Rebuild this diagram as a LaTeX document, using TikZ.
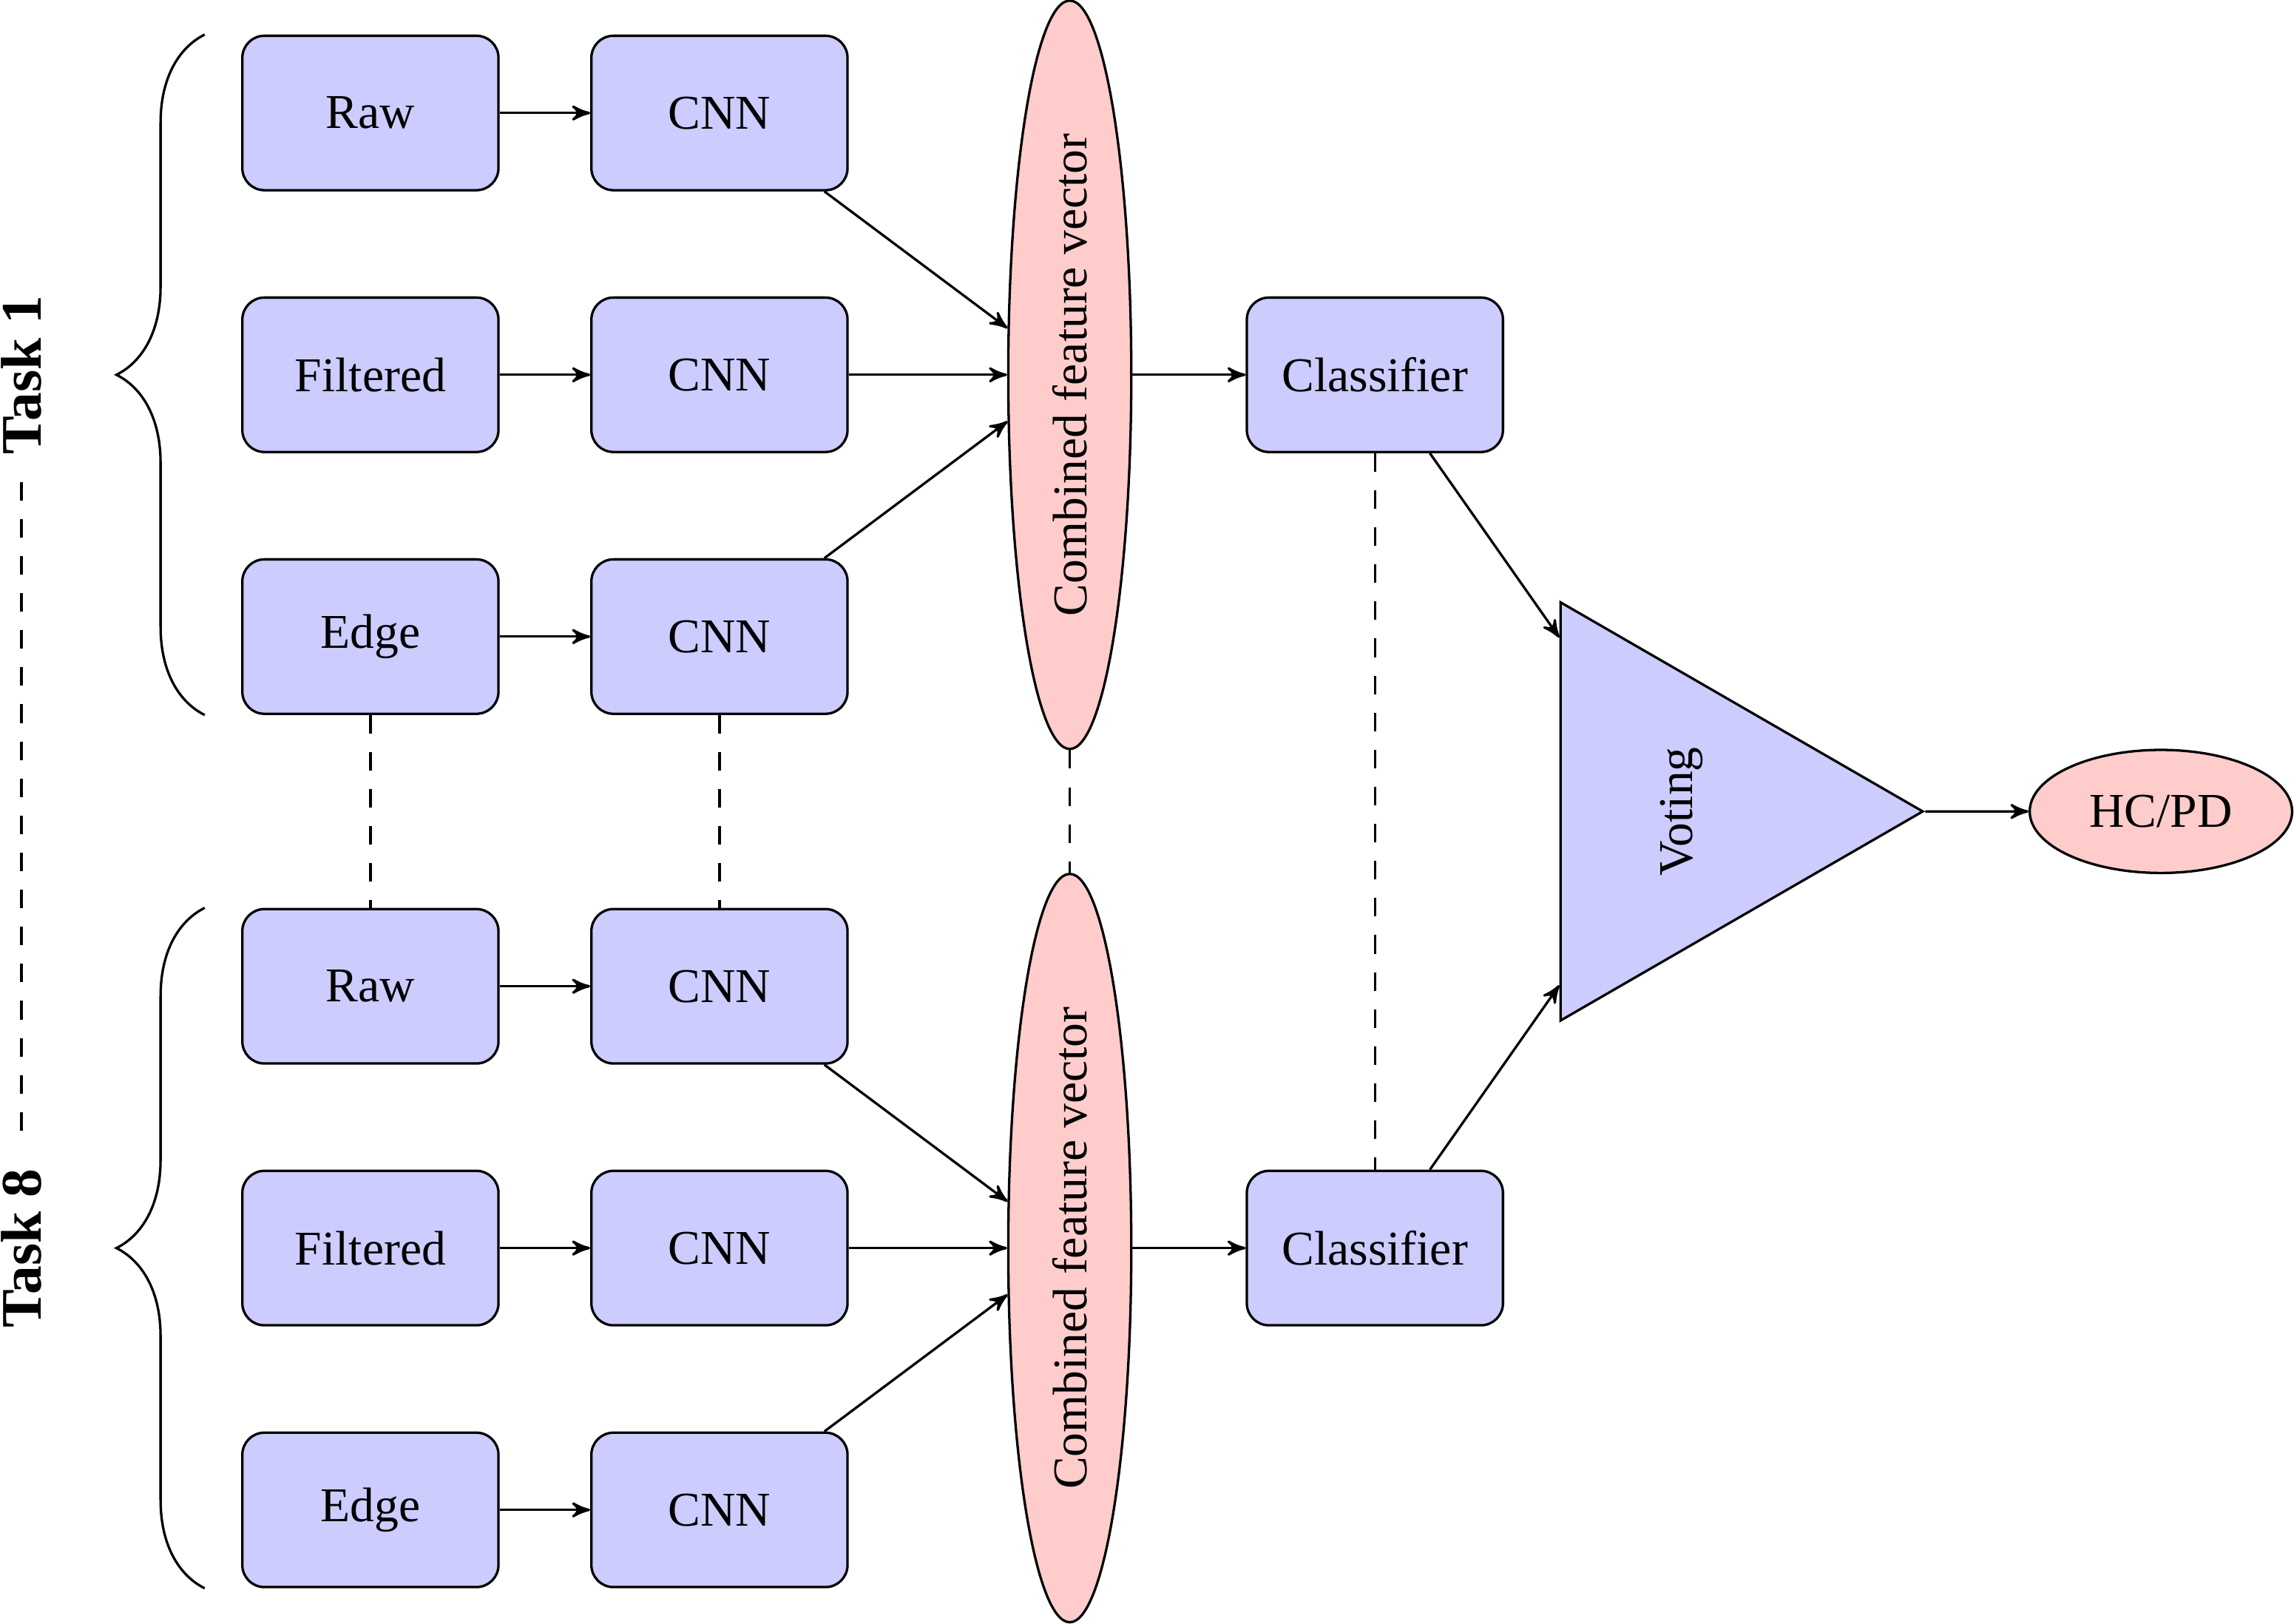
\documentclass[tikz,border=0pt]{standalone}
\usepackage{fontspec}
\setmainfont{Liberation Serif}
\usepackage{graphicx}
\usetikzlibrary{arrows,shapes.geometric,decorations.pathreplacing}

\tikzset{
  block/.style={draw, fill=blue!20, rounded corners=5pt,
    minimum width=2.04cm, minimum height=1.23cm},
  feat/.style={draw, fill=red!20, ellipse, inner sep=0pt,
    minimum width=5.96cm, minimum height=0.98cm},
  outcome/.style={draw, fill=red!20, ellipse, inner sep=0pt,
    minimum width=2.09cm, minimum height=0.98cm},
  vote/.style={draw, fill=blue!20, regular polygon, regular polygon sides=3,
    shape border rotate=-90, inner sep=0pt, minimum size=3.846cm},
  tasklabel/.style={inner sep=6pt, font=\fontsize{13}{15}\selectfont\bfseries},
  dashline/.style={dash pattern=on 4.2pt off 4.2pt},
  bracket/.style={decorate, decoration={brace, amplitude=20pt}}
}

\begin{document}
\begin{tikzpicture}[>=stealth', line width=0.55pt, font=\fontsize{11}{13.5}\selectfont]
  \useasboundingbox (0,0) rectangle (18.27,12.93);

  % one block of rows per task
  \foreach \t/\y in {1/9.945, 8/2.99}
  {
    \node[block] (raw\t)  at (2.95,\y+2.085) {Raw};
    \node[block] (filt\t) at (2.95,\y)       {Filtered};
    \node[block] (edge\t) at (2.95,\y-2.085) {Edge};

    \node[block] (cnnr\t) at (5.73,\y+2.085) {CNN};
    \node[block] (cnnf\t) at (5.73,\y)       {CNN};
    \node[block] (cnne\t) at (5.73,\y-2.085) {CNN};

    \node[feat, rotate=90] (comb\t) at (8.52,\y) {Combined feature vector};
    \node[block] (cls\t) at (10.95,\y) {Classifier};

    \node[tasklabel, rotate=90] (task\t) at (0.17,\y) {Task \t};

    \draw[->] (raw\t)  -- (cnnr\t);
    \draw[->] (filt\t) -- (cnnf\t);
    \draw[->] (edge\t) -- (cnne\t);
    \draw[->] (cnnr\t) -- (comb\t);
    \draw[->] (cnnf\t) -- (comb\t);
    \draw[->] (cnne\t) -- (comb\t);
    \draw[->] (comb\t) -- (cls\t);

    \draw[bracket] ([xshift=-0.29cm]edge\t.south west)
      -- ([xshift=-0.29cm]raw\t.north west);
  }

  % between the tasks
  \draw[dashline] (edge1) -- (raw8);
  \draw[dashline] (cnne1) -- (cnnr8);
  \draw[dashline] (comb1) -- (comb8);
  \draw[dashline] (cls1) -- (cls8);
  \draw[dashline] (task1) -- (task8);

  \node[vote] (voting) at (13.39,6.4675) {\rotatebox{90}{Voting}};
  \node[outcome] (hcpd) at (17.21,6.4675) {HC/PD};

  \draw[->] (cls1) -- (voting);
  \draw[->] (cls8) -- (voting);
  \draw[->] (voting) -- (hcpd);
\end{tikzpicture}
\end{document}
